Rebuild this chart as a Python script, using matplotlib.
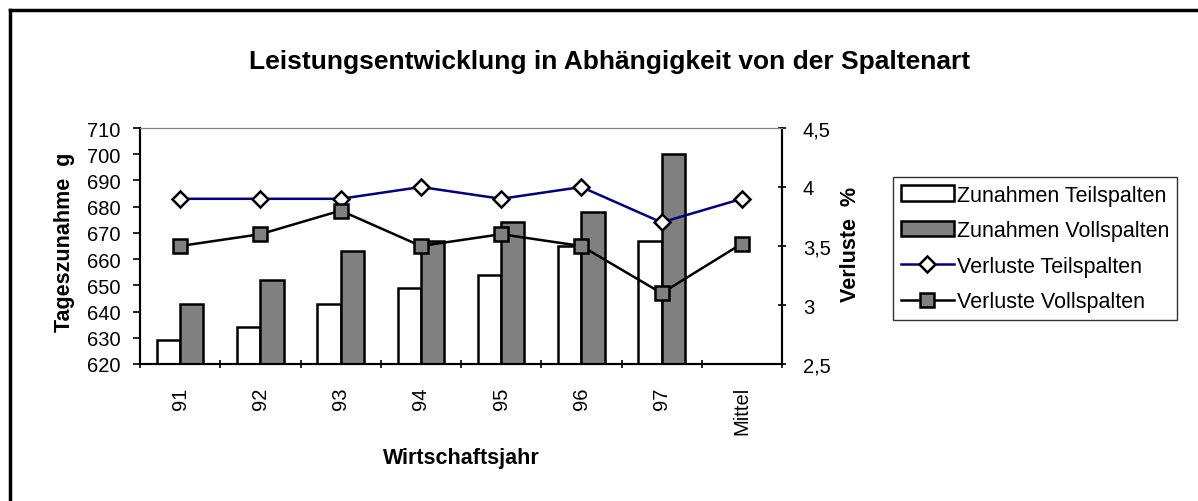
import matplotlib.pyplot as plt
from matplotlib.lines import Line2D
from matplotlib.patches import Patch
import numpy as np

plt.rcParams['font.family'] = ['Liberation Sans', 'DejaVu Sans']

jahre = ['91', '92', '93', '94', '95', '96', '97', 'Mittel']
zun_teil = [629, 634, 643, 649, 654, 665, 667]
zun_voll = [643, 652, 663, 667, 674, 678, 700]
verl_teil = [3.9, 3.9, 3.9, 4.0, 3.9, 4.0, 3.7, 3.9]
verl_voll = [3.5, 3.6, 3.8, 3.5, 3.6, 3.5, 3.1, 3.52]

fig = plt.figure(figsize=(11.98, 5.02), dpi=100)
ax = fig.add_axes([140/1198, 1-365/502, (782-140)/1198, (365-129)/502])
ax2 = ax.twinx()

x = np.arange(len(jahre))
w = 0.29
xb = np.arange(len(zun_teil))
ax.bar(xb - w/2, zun_teil, w, color='white', edgecolor='black', linewidth=1.8, zorder=2)
ax.bar(xb + w/2, zun_voll, w, color='#808080', edgecolor='black', linewidth=1.8, zorder=2)

ax2.plot(x, verl_teil, color='#000080', linewidth=1.8, marker='D', markersize=8,
         markerfacecolor='white', markeredgecolor='black', markeredgewidth=1.8)
ax2.plot(x, verl_voll, color='black', linewidth=1.8, marker='s', markersize=10.5,
         markerfacecolor='#808080', markeredgecolor='black', markeredgewidth=1.8)

ax.set_xlim(-0.5, len(jahre) - 0.5)
ax.set_ylim(620, 710)
ax.set_yticks(np.arange(620, 711, 10))
ax2.set_ylim(2.5, 4.5)
ax2.set_yticks([2.5, 3, 3.5, 4, 4.5])
ax2.set_yticklabels(['2,5', '3', '3,5', '4', '4,5'])

ax.set_xticks(x)
ax.set_xticklabels(jahre, rotation=90, va='top')
ax.set_xticks(np.arange(-0.5, len(jahre), 1), minor=True)
ax.tick_params(axis='x', which='major', length=0, pad=16, labelsize=14.5)
ax.tick_params(axis='x', which='minor', length=6, width=1.2, direction='inout')
ax.tick_params(axis='y', length=5, width=1.2, labelsize=14.5, pad=9)
ax2.tick_params(axis='y', length=6, width=1.2, labelsize=14.5, direction='inout', pad=12)

for a in (ax, ax2):
    a.spines['top'].set_color('#808080')
    a.spines['left'].set_linewidth(1.5)
    a.spines['right'].set_linewidth(1.5)
    a.spines['bottom'].set_linewidth(1.5)

ax.set_ylabel('Tageszunahme  g', fontsize=15.5, fontweight='bold')
ax.yaxis.set_label_coords(-0.101, 0.52)
ax2.set_ylabel('Verluste  %', fontsize=15.5, fontweight='bold')
ax2.yaxis.set_label_coords(1.09, 0.51)
ax.set_xlabel('Wirtschaftsjahr', fontsize=15.5, fontweight='bold')
ax.xaxis.set_label_coords(0.5, -0.35)

fig.text(0.509, 1-62/502, 'Leistungsentwicklung in Abhängigkeit von der Spaltenart',
         ha='center', va='center', fontsize=19, fontweight='bold')

handles = [
    Patch(facecolor='white', edgecolor='black', linewidth=1.8),
    Patch(facecolor='#808080', edgecolor='black', linewidth=1.8),
    Line2D([], [], color='#000080', linewidth=1.8, marker='D', markersize=8,
           markerfacecolor='white', markeredgecolor='black', markeredgewidth=1.8),
    Line2D([], [], color='black', linewidth=1.8, marker='s', markersize=10.5,
           markerfacecolor='#808080', markeredgecolor='black', markeredgewidth=1.8),
]
labels = ['Zunahmen Teilspalten', 'Zunahmen Vollspalten',
          'Verluste Teilspalten', 'Verluste Vollspalten']
leg = fig.legend(handles, labels, loc='upper left', bbox_to_anchor=(893/1198, 1-178/502),
                 fontsize=15.5, frameon=True, fancybox=False, edgecolor='black',
                 handlelength=2.5, handletextpad=0.12, borderpad=0.35, labelspacing=0.68,
                 borderaxespad=0)
leg.get_frame().set_linewidth(1.0)

# outer frame (top and left edges visible)
fig.add_artist(Line2D([10/1198, 1], [1-11/502, 1-11/502], color='black', linewidth=2.5,
                      transform=fig.transFigure))
fig.add_artist(Line2D([10/1198, 10/1198], [0, 1-11/502], color='black', linewidth=2.5,
                      transform=fig.transFigure))

fig.savefig('out.png', dpi=100)
